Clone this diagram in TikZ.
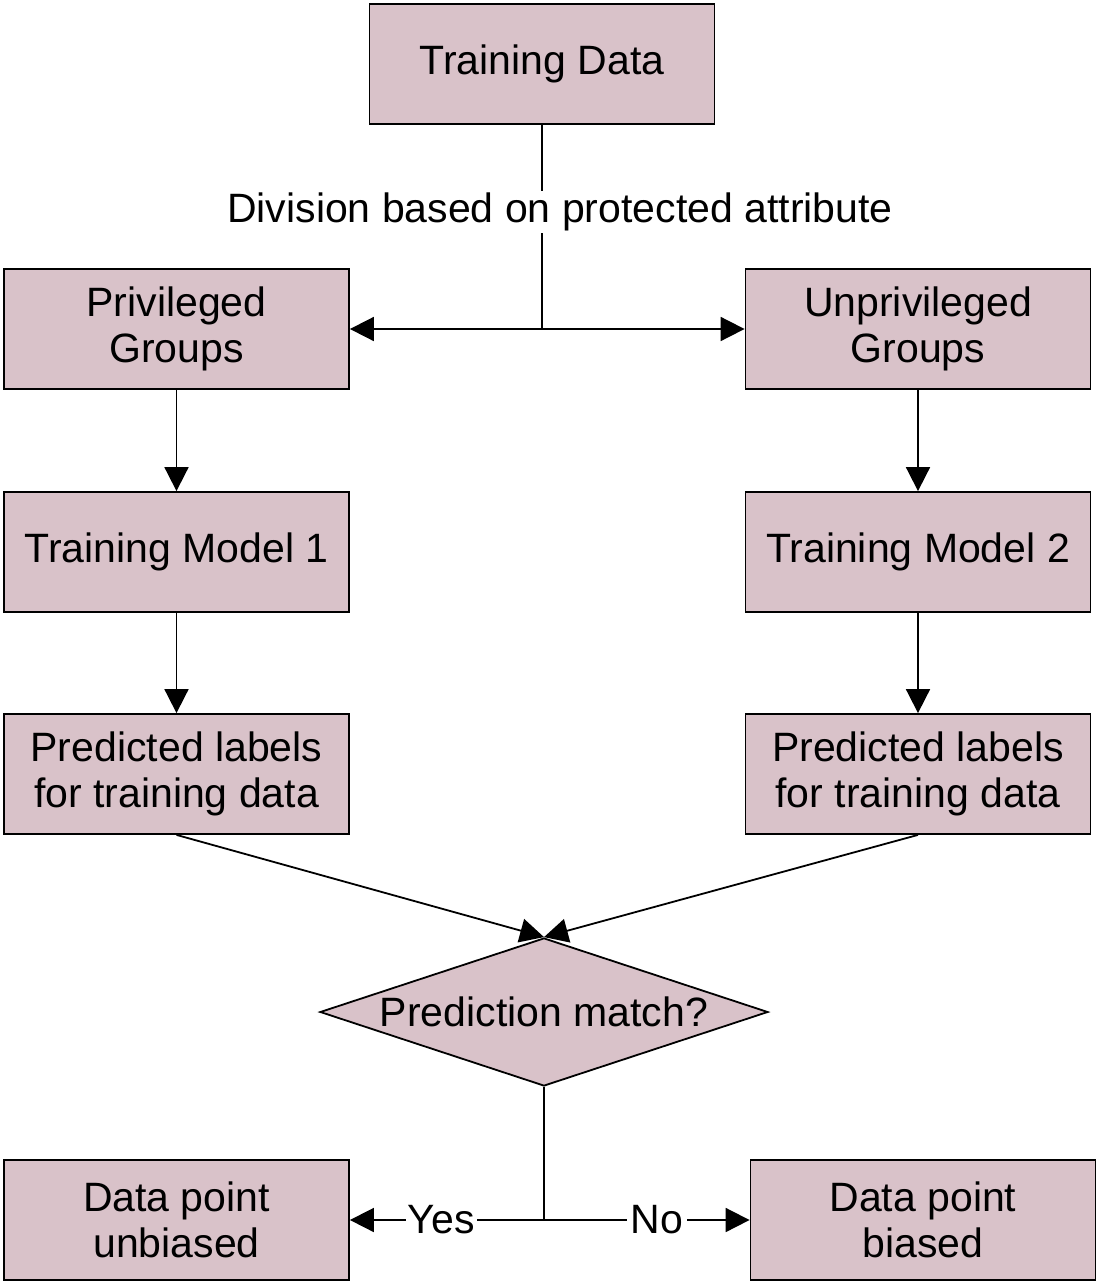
\documentclass[tikz,border=0pt]{standalone}
\usepackage{fontspec}
\setmainfont{Liberation Sans}
\usetikzlibrary{arrows.meta, shapes.geometric}
\definecolor{boxfill}{RGB}{217,194,201}

\begin{document}
\begin{tikzpicture}[x=0.5pt, y=-0.5pt,
    every node/.style={font=\fontsize{20.5}{23}\selectfont},
    block/.style={rectangle, draw, line width=0.9pt, fill=boxfill, align=center,
                  minimum width=172.5pt, minimum height=60pt, inner sep=2pt},
    decision/.style={diamond, draw, line width=0.9pt, fill=boxfill, aspect=3,
                  minimum width=224pt, minimum height=74pt, inner sep=0pt},
    link/.style={line width=0.9pt},
    tri/.style={line width=0.9pt, -{Triangle[length=12pt, width=12pt]}}]

    \useasboundingbox (0,0) rectangle (1100,1285);

    % top
    \node[block] (data) at (542,64) {Training Data};
    \coordinate (split) at (542,329);

    % groups
    \node[block] (priv) at (176.5,329) {Privileged\\Groups};
    \node[block] (unpriv) at (918,329) {Unprivileged\\Groups};

    % models
    \node[block] (model1) at (176.5,552) {Training Model 1};
    \node[block] (model2) at (918,552) {Training Model 2};

    % predictions
    \node[block] (pred1) at (176.5,774) {Predicted labels\\for training data};
    \node[block] (pred2) at (918,774) {Predicted labels\\for training data};

    % decision
    \node[decision] (match) at (544,1012) {Prediction match?};
    \coordinate (fork) at (544,1220);

    % outcomes
    \node[block] (unbiased) at (176.5,1220) {Data point\\unbiased};
    \node[block] (biased) at (923,1220) {Data point\\biased};

    % connectors
    \draw[link] (data.south) -- (split);
    \draw[tri] (split) -- (priv.east);
    \draw[tri] (split) -- (unpriv.west);
    \node[fill=white, inner sep=1pt] (division) at (560,212) {Division based on protected attribute};

    \draw[tri] (priv) -- (model1);
    \draw[tri] (unpriv) -- (model2);
    \draw[tri] (model1) -- (pred1);
    \draw[tri] (model2) -- (pred2);

    \draw[tri] (pred1.south) -- (match.north);
    \draw[tri] (pred2.south) -- (match.north);

    \draw[link] (match.south) -- (fork);
    \draw[tri] (fork) -- node[pos=0.53, fill=white, inner sep=1pt] {Yes} (unbiased.east);
    \draw[tri] (fork) -- node[pos=0.55, fill=white, inner sep=2pt] {No} (biased.west);

\end{tikzpicture}
\end{document}
